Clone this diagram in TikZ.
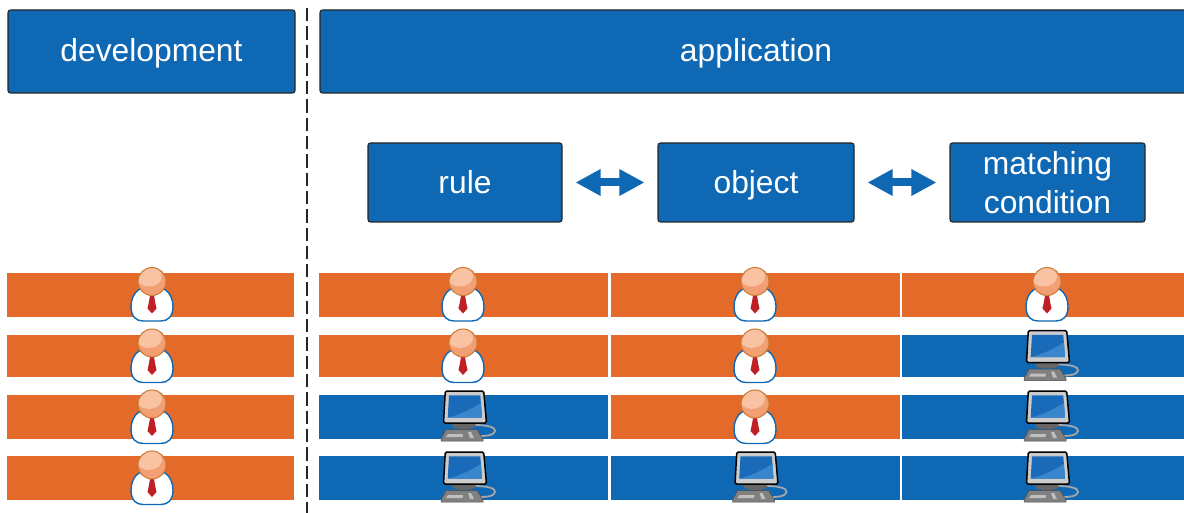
\documentclass[tikz,border=0pt]{standalone}
\usepackage{fontspec}
\setmainfont{Liberation Sans}
\usetikzlibrary{arrows.meta}
\definecolor{hblue}{HTML}{0F68B4}
\definecolor{horange}{HTML}{E36A28}
\definecolor{skin}{HTML}{F2A073}
\definecolor{skinl}{HTML}{F9C2A2}
\definecolor{skind}{HTML}{C97B35}
\definecolor{tie}{HTML}{BE2026}
\definecolor{scr}{HTML}{1A6ABA}
\definecolor{scrl}{HTML}{3A86CC}
\tikzset{
  x=1pt,y=-1pt,
  box/.style={draw=black!85,line width=1.1pt,rounded corners=2.5pt,fill=hblue,text=white,inner sep=0pt,align=center,font=\fontsize{31.8}{39}\selectfont},
  headbox/.style={box,text height=24pt,text depth=3.6pt},
  stepbox/.style={box,text height=24pt,text depth=2pt},
  orangebar/.style={fill=horange,draw=none,inner sep=0pt},
  bluebar/.style={fill=hblue,draw=none,inner sep=0pt},
  link/.style={draw=hblue,line width=8pt,shorten <=13pt,shorten >=13pt,{Triangle[length=25pt,width=25pt]}-{Triangle[length=25pt,width=25pt]}},
  sep/.style={draw=black!85,line width=1.1pt,dash pattern=on 13.3pt off 5pt},
  person/.pic={
    % origin: head centre
    \draw[draw=hblue,fill=white,line width=1.4pt] (-13,8) .. controls (-18,11) and (-21,18) .. (-21,25)
      .. controls (-21,35) and (-16,39.5) .. (-9,39.5) -- (9,39.5)
      .. controls (16,39.5) and (21,35) .. (21,25) .. controls (21,18) and (18,11) .. (13,8) -- cycle;
    \fill[tie] (-2,14) -- (2,14) -- (3,20) -- (4.5,27) -- (0,32) -- (-4.5,27) -- (-3,20) -- cycle;
    \fill[skin] (0,0) circle[radius=14];
    \begin{scope}
      \clip (0,0) circle[radius=14];
      \fill[skinl] (-3,-5) ellipse[x radius=13,y radius=10];
    \end{scope}
    \draw[draw=skind,line width=1pt] (0,0) circle[radius=14];
  },
  computer/.pic={
    % origin: top centre of monitor
    \draw[black!35,line width=1.8pt] (11,34) .. controls (22,34) and (32,36) .. (31,40) .. controls (30,44) and (24,45) .. (17,45);
    \fill[black!60] (0,34.5) ellipse[x radius=12,y radius=3.5];
    \draw[fill=black!50,draw=black!70,line width=.5pt,line join=round] (-18,38.5) -- (13,38.5) -- (19,48) -- (19,50) -- (-23,50) -- (-23,48) -- cycle;
    \fill[black!25] (-16,43) -- (-1,43) -- (-1.5,46) -- (-18,46) -- cycle;
    \fill[black!25] (4,41) -- (7,41) -- (10,47) -- (6,47) -- cycle;
    \draw[fill=black!20,draw=black,line width=1.5pt,line join=round,rounded corners=1.5pt] (-18.7,0) -- (19.7,0) -- (22.5,32) -- (-20.5,32) -- cycle;
    \fill[scr] (-15,4.3) -- (16.3,4.3) -- (18,26.7) -- (-16.3,26.7) -- cycle;
    \fill[scrl] (-16.3,26.7) .. controls (-6,24) and (4,20) .. (17,12) -- (18,26.7) -- cycle;
  }
}
\begin{document}
\begin{tikzpicture}
\useasboundingbox (0,0) rectangle (1184,513);
\clip (0,0) rectangle (1184,513);
\fill[white] (0,0) rectangle (1184,513);

\coordinate (septop) at (307,8);
\coordinate (sepbot) at (307,513);
\draw[sep] (septop) -- (sepbot);

\node[headbox,minimum width=287pt,minimum height=83pt] (dev) at (151.5,51.5) {development};
\node[headbox,minimum width=872pt,minimum height=83pt] (app) at (756,51.5) {application};
\node[stepbox,minimum width=194pt,minimum height=79pt] (rule) at (465,182.5) {rule};
\node[stepbox,minimum width=196pt,minimum height=79pt] (object) at (756,182.5) {object};
\node[box,minimum width=195pt,minimum height=79pt] (match) at (1047.5,182.5) {matching\\condition};
\draw[link] (rule) -- (object);
\draw[link] (object) -- (match);

% row bars
\foreach \nm/\yc/\hh/\aa/\bb/\cc in {a/295/44/orangebar/orangebar/orangebar,
                                     b/356/42/orangebar/orangebar/bluebar,
                                     c/417/44/bluebar/orangebar/bluebar,
                                     d/478/44/bluebar/bluebar/bluebar}{
  \node[orangebar,minimum width=287pt,minimum height=\hh pt] (\nm0) at (150.5,\yc) {};
  \node[\aa,minimum width=289pt,minimum height=\hh pt] (\nm1) at (463.5,\yc) {};
  \node[\bb,minimum width=289pt,minimum height=\hh pt] (\nm2) at (755.5,\yc) {};
  \node[\cc,minimum width=290pt,minimum height=\hh pt] (\nm3) at (1047,\yc) {};
}

% persons (head centres)
\foreach \px/\py in {152/281.5,152/343,152/404,152/465,
                     463/281.5,463/343,
                     755/281.5,755/343,755/404,
                     1047/281.5}{
  \pic at (\px,\py) {person};
}
% computers (monitor top)
\foreach \px/\py in {1047/330.5,1047/391,1047/452,
                     464/391,464/452,
                     755.5/452}{
  \pic at (\px,\py) {computer};
}
\end{tikzpicture}
\end{document}
